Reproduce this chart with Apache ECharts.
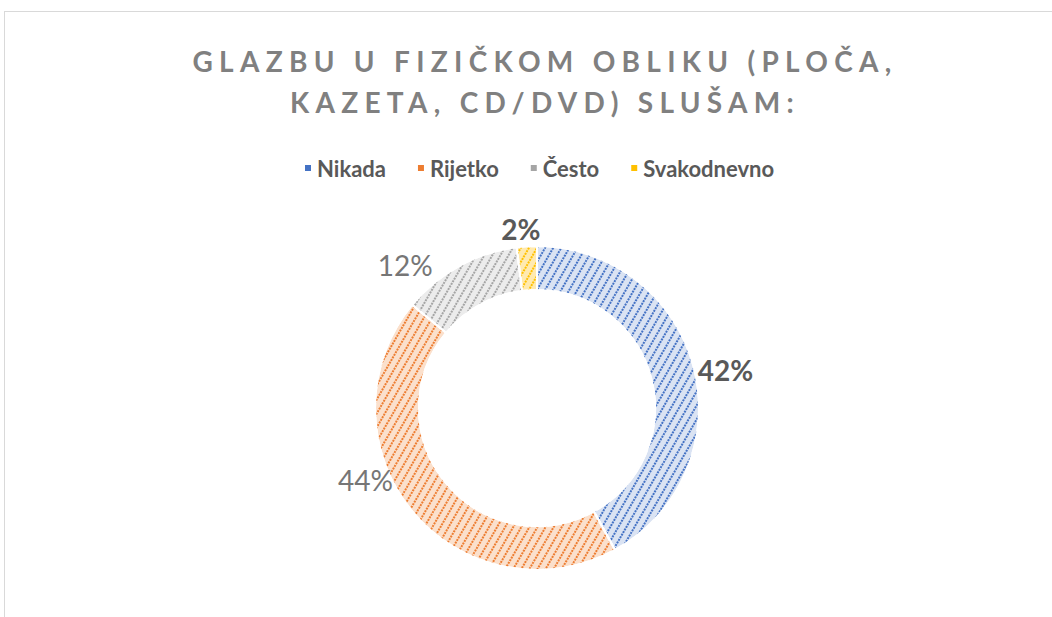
<!DOCTYPE html>
<html>
<head>
<meta charset="utf-8">
<script src="https://cdn.jsdelivr.net/npm/echarts@6/dist/echarts.min.js"></script>
<style>
  html, body { margin: 0; padding: 0; background: #fff; }
  #frame {
    position: absolute; left: 4px; top: 11px; width: 1060px; height: 620px;
    border-top: 1px solid #d9d9d9; border-left: 1px solid #d9d9d9;
  }
  #chart { position: absolute; left: 0; top: 0; width: 1052px; height: 617px; }
  /* razmak slova u naslovu */
  #chart text[style*="Open Sans"] { letter-spacing: 6.3px; }
</style>
</head>
<body>
<div id="frame"></div>
<div id="chart"></div>
<script>
const titleText = 'GLAZBU U FIZIČKOM OBLIKU (PLOČA,\nKAZETA, CD/DVD) SLUŠAM:'
const categories = ['Nikada', 'Rijetko', 'Često', 'Svakodnevno']
const values = [42, 44, 12, 2]

const darkColors = ['#4472C4', '#ED7D31', '#A5A5A5', '#FFC000']
const lightColors = ['#dae3f3', '#fbe0cc', '#ececec', '#ffeab0']
const boldLabels = ['Nikada', 'Svakodnevno'] // excel je neke oznake podebljao
// pomak oznaka da sjednu kao u excelu (bestFit)
const labelShift = [[-9, 4], [-8, -36], [-7, -3], [19, -9]]

const myEcharts = echarts.init(document.getElementById('chart'), null, { renderer: 'svg' })

const seriesData = categories.map((name, i) => {
  const bold = boldLabels.indexOf(name) > -1
  return {
    name: name,
    value: values[i],
    itemStyle: {
      color: lightColors[i],
      decal: {
        symbol: 'rect',
        color: darkColors[i],
        dashArrayX: [[2, 1]],
        dashArrayY: [2, 5],
        rotation: -Math.PI / 3
      }
    },
    label: {
      fontWeight: bold ? 'bold' : 'normal',
      color: bold ? '#595959' : '#767676'
    }
  }
})

myEcharts.setOption({
  animation: false,
  title: {
    text: titleText,
    left: 540,
    top: 35,
    textAlign: 'center',
    textStyle: {
      fontFamily: 'Lato, "Open Sans"',
      fontSize: 28,
      fontWeight: 'bold',
      color: '#808080',
      lineHeight: 41
    }
  },
  legend: {
    top: 152,
    left: 298,
    icon: 'rect',
    itemWidth: 8,
    itemHeight: 8,
    itemGap: 30,
    selectedMode: false,
    data: categories.map((name, i) => ({
      name: name,
      itemStyle: { color: darkColors[i], decal: 'none' }
    })),
    textStyle: {
      fontFamily: 'Lato',
      fontSize: 22,
      fontWeight: 'bold',
      color: '#595959'
    }
  },
  series: [
    {
      type: 'pie',
      center: [537, 408],
      radius: [118, 162],
      startAngle: 90,
      clockwise: true,
      itemStyle: {
        borderColor: '#fff',
        borderWidth: 2
      },
      emphasis: { disabled: true },
      label: {
        show: true,
        position: 'outside',
        formatter: '{c}%',
        fontFamily: 'Lato',
        fontSize: 28
      },
      labelLine: {
        show: false,
        length: 8,
        length2: 0
      },
      labelLayout: (params) => ({
        dx: labelShift[params.dataIndex][0],
        dy: labelShift[params.dataIndex][1]
      }),
      data: seriesData
    }
  ]
})
</script>
</body>
</html>
